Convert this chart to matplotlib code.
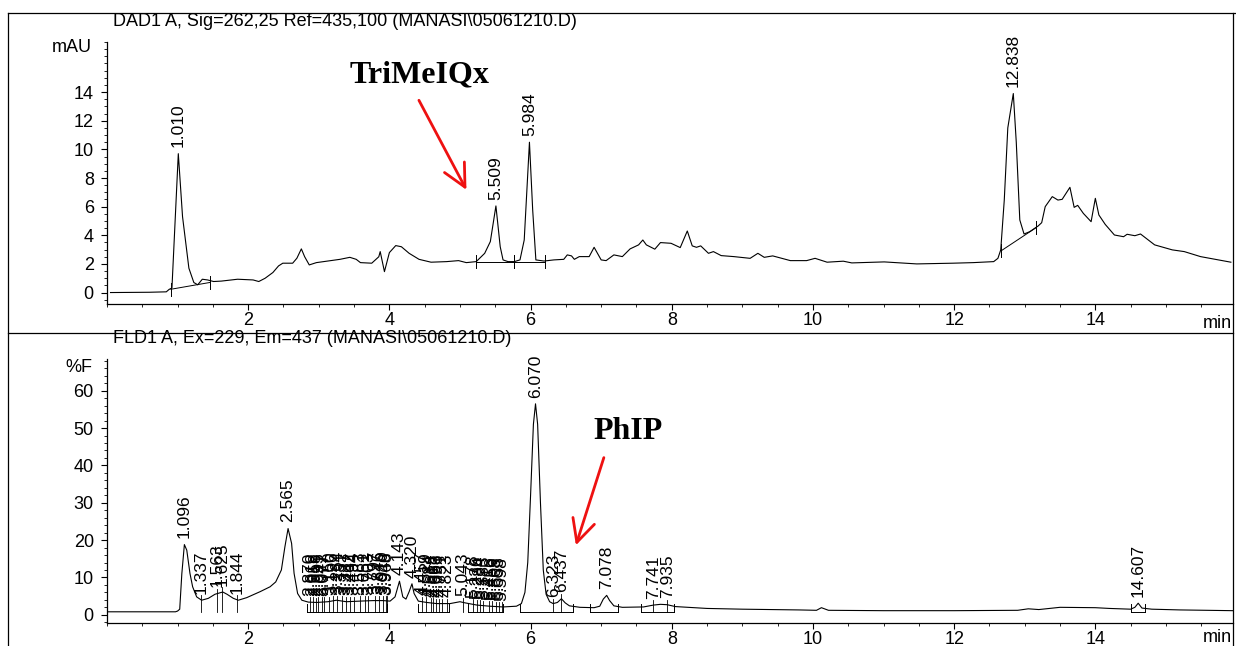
import matplotlib
matplotlib.use("Agg")
import matplotlib.pyplot as plt
from matplotlib.ticker import MultipleLocator, FixedLocator
from matplotlib.lines import Line2D
import numpy as np

plt.rcParams['font.family'] = ['Liberation Sans', 'DejaVu Sans']

# ---- DAD1 A, 262 nm: time (min) / signal (mAU) ----
dad_t = [0.05, 0.60, 0.84, 0.88, 0.92, 1.010, 1.07, 1.16, 1.23, 1.285, 1.35, 1.425,
         1.51, 1.62, 1.85, 2.07, 2.15, 2.24, 2.35, 2.43, 2.49, 2.63, 2.69, 2.753,
         2.80, 2.865, 2.966, 3.13, 3.30, 3.44, 3.53, 3.59, 3.75, 3.85, 3.87, 3.93,
         4.00, 4.09, 4.17, 4.28, 4.42, 4.59, 4.81, 4.98, 5.09, 5.23, 5.35, 5.43,
         5.509, 5.57, 5.61, 5.68, 5.77, 5.85, 5.91, 5.984, 6.03, 6.075, 6.19, 6.33,
         6.47, 6.52, 6.58, 6.62, 6.69, 6.83, 6.90, 7.00, 7.07, 7.18, 7.30, 7.41,
         7.53, 7.59, 7.64, 7.76, 7.84, 7.99, 8.12, 8.22, 8.29, 8.35, 8.41, 8.52,
         8.59, 8.70, 8.88, 9.11, 9.22, 9.31, 9.43, 9.68, 9.91, 10.03, 10.20, 10.43,
         10.55, 11.01, 11.47, 11.98, 12.27, 12.56, 12.62, 12.66, 12.71, 12.76,
         12.838, 12.88, 12.93, 12.99, 13.07, 13.19, 13.24, 13.29, 13.39, 13.47,
         13.53, 13.64, 13.70, 13.75, 13.83, 13.94, 14.00, 14.05, 14.14, 14.27,
         14.40, 14.45, 14.56, 14.64, 14.84, 15.09, 15.26, 15.49, 15.92]
dad_y = [0.0, 0.02, 0.05, 0.22, 0.32, 9.7, 5.3, 1.7, 0.7, 0.54, 0.93, 0.88,
         0.77, 0.8, 0.93, 0.88, 0.77, 1.0, 1.4, 1.86, 2.05, 2.05, 2.4, 3.05,
         2.5, 1.93, 2.09, 2.2, 2.32, 2.46, 2.32, 2.09, 2.05, 2.5, 2.86, 1.46,
         2.79, 3.28, 3.2, 2.74, 2.32, 2.12, 2.16, 2.23, 2.09, 2.16, 2.74, 3.56,
         6.05, 3.2, 2.28, 2.16, 2.16, 2.28, 3.67, 10.5, 5.76, 2.28, 2.2, 2.28,
         2.32, 2.63, 2.56, 2.32, 2.51, 2.51, 3.16, 2.28, 2.23, 2.63, 2.51, 3.05,
         3.33, 3.67, 3.33, 3.03, 3.49, 3.44, 3.14, 4.30, 3.26, 3.16, 3.26, 2.74,
         2.86, 2.58, 2.51, 2.39, 2.74, 2.46, 2.56, 2.23, 2.23, 2.39, 2.12, 2.19,
         2.07, 2.14, 2.00, 2.05, 2.09, 2.16, 2.39, 2.98, 6.46, 11.5,
         13.9, 10.5, 5.07, 4.09, 4.25, 4.65, 4.88, 6.0, 6.7, 6.46,
         6.51, 7.35, 5.95, 6.09, 5.53, 4.95, 6.58, 5.42, 4.76, 4.02,
         3.90, 4.07, 3.97, 4.09, 3.33, 2.98, 2.86, 2.51, 2.12]
dad_peaks = [1.010, 5.509, 5.984, 12.838]
# integration baselines (start time, start level, end time, end level)
dad_base_t0 = [0.905, 5.23, 5.77, 12.67]
dad_base_y0 = [0.23, 2.16, 2.16, 2.93]
dad_base_t1 = [1.453, 5.77, 6.20, 13.16]
dad_base_y1 = [0.70, 2.16, 2.16, 4.53]

# ---- FLD1 A, Ex=229 Em=437: time (min) / signal (%F) ----
fld_t = [0.0, 0.97, 1.00, 1.03, 1.06, 1.096, 1.13, 1.175, 1.213, 1.27, 1.34, 1.435,
         1.53, 1.64, 1.70, 1.79, 1.86, 1.98, 2.17, 2.31, 2.39, 2.47, 2.52, 2.565,
         2.615, 2.65, 2.70, 2.76, 2.85, 2.97, 3.13, 3.25, 3.39, 3.58, 3.77, 3.91,
         4.01, 4.08, 4.143, 4.19, 4.235, 4.28, 4.320, 4.35, 4.41, 4.53, 4.67, 4.86,
         5.00, 5.07, 5.24, 5.42, 5.61, 5.80, 5.87, 5.92, 5.96, 6.00, 6.04, 6.070,
         6.10, 6.14, 6.18, 6.22, 6.27, 6.32, 6.38, 6.437, 6.49, 6.55, 6.70, 6.90,
         6.98, 7.03, 7.078, 7.12, 7.18, 7.30, 7.60, 7.741, 7.84, 7.935, 8.05, 8.50,
         9.00, 9.80, 10.05, 10.12, 10.22, 11.00, 12.00, 12.90, 13.05, 13.20, 13.50,
         14.00, 14.20, 14.50, 14.56, 14.607, 14.66, 14.80, 15.20, 15.95]
fld_y = [0.8, 0.8, 1.0, 1.5, 11.0, 18.8, 17.3, 11.1, 7.5, 4.8, 3.9, 4.4,
         5.5, 6.1, 5.5, 4.4, 3.9, 4.6, 6.2, 7.5, 8.8, 12.0, 18.2, 23.1,
         19.1, 11.1, 5.7, 3.9, 3.4, 3.3, 3.5, 3.9, 3.5, 3.66, 3.8, 3.8,
         3.66, 4.8, 9.0, 4.8, 4.2, 6.2, 8.3, 5.7, 3.66, 3.3, 3.0, 3.0,
         3.5, 3.2, 2.6, 2.3, 2.1, 2.3, 3.0, 6.0, 14.0, 32.0, 51.0, 56.5,
         51.0, 30.0, 12.0, 5.5, 3.5, 3.0, 3.3, 4.3, 3.2, 2.4, 2.0, 1.9,
         2.3, 4.2, 5.2, 3.8, 2.4, 2.0, 2.1, 2.6, 2.8, 2.7, 2.2, 1.7,
         1.5, 1.3, 1.2, 1.9, 1.2, 1.1, 1.1, 1.2, 1.6, 1.4, 2.0,
         1.9, 1.7, 1.5, 2.0, 3.1, 1.8, 1.5, 1.3, 1.1]
fld_peaks = [1.096, 1.337, 1.563, 1.625, 1.844, 2.565,
             2.870, 2.918, 2.958, 2.995, 3.041, 3.077, 3.150, 3.196, 3.264, 3.331,
             3.387, 3.442, 3.494, 3.583, 3.651, 3.703, 3.797, 3.846, 3.910, 3.946,
             3.968, 4.143, 4.320, 4.457, 4.519, 4.584, 4.618, 4.663, 4.696, 4.751,
             4.823, 5.043, 5.178, 5.236, 5.284, 5.333, 5.415, 5.456, 5.508, 5.553,
             5.598, 6.070, 6.323, 6.437, 7.078, 7.741, 7.935, 14.607]
# peaks drawn without a drop line
fld_main = [1.096, 2.565, 4.143, 4.320, 6.070, 7.078, 14.607]
fld_base_t0 = [2.84, 4.40, 5.12, 5.85, 6.84, 7.57, 14.50]
fld_base_t1 = [3.97, 4.84, 5.61, 6.60, 7.24, 8.03, 14.70]
fld_base_level = 0.8

W, H = 1236, 646
fig = plt.figure(figsize=(W / 100, H / 100), dpi=100)


def fx(px):
    return px / W


def fy(py):
    return 1 - py / H


def style_axes(ax, xlim, ylim, ymajor, yminor, ylabels):
    ax.set_xlim(*xlim)
    ax.set_ylim(*ylim)
    for s in ['top', 'right']:
        ax.spines[s].set_visible(False)
    for s in ['left', 'bottom']:
        ax.spines[s].set_linewidth(0.9)
    ax.xaxis.set_major_locator(FixedLocator([2, 4, 6, 8, 10, 12, 14]))
    ax.xaxis.set_minor_locator(MultipleLocator(0.5))
    ax.yaxis.set_major_locator(FixedLocator(ymajor))
    ax.set_yticklabels(ylabels)
    ax.yaxis.set_minor_locator(MultipleLocator(yminor))
    ax.tick_params(which='major', direction='out', length=4.5, width=0.8,
                   labelsize=13)
    ax.tick_params(axis='x', which='major', pad=1.5)
    ax.tick_params(axis='y', which='major', pad=5)
    ax.tick_params(which='minor', direction='out', length=2.5, width=0.6)
    ax.patch.set_alpha(0)


arrow_style = dict(arrowstyle='->,head_length=0.9,head_width=0.45',
                   color='#ee1111', lw=2.0, mutation_scale=18)

# ---------------- top: DAD ----------------
ax1 = fig.add_axes([fx(107), fy(304), fx(1233) - fx(107), fy(42) - fy(304)])
ax1.plot(dad_t, dad_y, color='black', lw=0.8)
for t0, y0, t1, y1 in zip(dad_base_t0, dad_base_y0, dad_base_t1, dad_base_y1):
    ax1.plot([t0, t1], [y0, y1], color='black', lw=0.7)
    for t, y in [(t0, y0), (t1, y1)]:
        ax1.plot([t, t], [y - 0.45, y + 0.45], color='black', lw=0.7)
for rt in dad_peaks:
    h = np.interp(rt, dad_t, dad_y)
    ax1.annotate(f"{rt:.3f}", (rt, h), xytext=(0, 4.5), textcoords='offset points',
                 rotation=90, ha='center', va='bottom', fontsize=12.5,
                 annotation_clip=False)
style_axes(ax1, (0, 15.95), (-0.8, 17.5), [0, 2, 4, 6, 8, 10, 12, 14], 0.5,
           ['0', '2', '4', '6', '8', '10', '12', '14'])
ax1.annotate('', xy=(5.11, 7.0), xytext=(4.40, 13.6), arrowprops=arrow_style)
ax1.text(4.42, 15.18, 'TriMeIQx', family='Liberation Serif', weight='bold',
         fontsize=23, ha='center', va='center')

# ---------------- bottom: FLD ----------------
ax2 = fig.add_axes([fx(107), fy(623), fx(1233) - fx(107), fy(359) - fy(623)])
ax2.plot(fld_t, fld_y, color='black', lw=0.8)
for t0, t1 in zip(fld_base_t0, fld_base_t1):
    ax2.plot([t0, t1], [fld_base_level, fld_base_level], color='black', lw=0.7)
    for t in (t0, t1):
        ax2.plot([t, t], [fld_base_level, fld_base_level + 2.2], color='black', lw=0.7)
for rt in fld_peaks:
    h = np.interp(rt, fld_t, fld_y)
    if rt not in fld_main:
        ax2.plot([rt, rt], [fld_base_level, h + 1.3], color='black', lw=0.6)
    ax2.annotate(f"{rt:.3f}", (rt, h), xytext=(0, 4.5), textcoords='offset points',
                 rotation=90, ha='center', va='bottom', fontsize=12.5,
                 annotation_clip=False)
style_axes(ax2, (0, 15.95), (-2.2, 68.5), [0, 10, 20, 30, 40, 50, 60], 2,
           ['0', '10', '20', '30', '40', '50', '60'])
ax2.annotate('', xy=(6.63, 17.9), xytext=(7.05, 42.8), arrowprops=arrow_style)
ax2.text(7.38, 49.2, 'PhIP', family='Liberation Serif', weight='bold',
         fontsize=23, ha='center', va='center')

# ---------------- frame, titles, units ----------------
frame = [([8, 8], [13, 646]), ([8, 1236], [13, 13]), ([8, 1233], [333, 333]),
         ([1233, 1233], [13, 646])]
for xs, ys in frame:
    fig.add_artist(Line2D([fx(x) for x in xs], [fy(y) for y in ys],
                          color='black', lw=0.9))

fig.text(fx(113), fy(21), 'DAD1 A, Sig=262,25 Ref=435,100 (MANASI\\05061210.D)',
         fontsize=13, ha='left', va='center')
fig.text(fx(113), fy(339), 'FLD1 A, Ex=229, Em=437 (MANASI\\05061210.D)',
         fontsize=13, ha='left', va='center')
fig.text(fx(92), fy(47), 'mAU', fontsize=13, ha='right', va='center')
fig.text(fx(92), fy(368), '%F', fontsize=13, ha='right', va='center')
fig.text(fx(1232), fy(323), 'min', fontsize=13, ha='right', va='center')
fig.text(fx(1232), fy(637), 'min', fontsize=13, ha='right', va='center')

fig.savefig('out.png', dpi=100, facecolor='white')
